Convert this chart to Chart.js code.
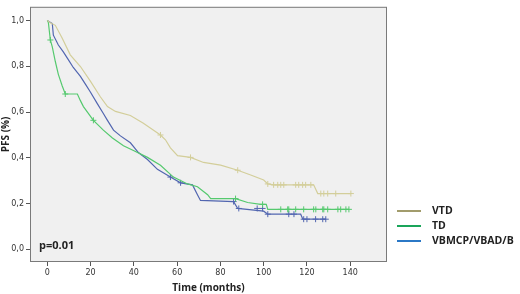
<!DOCTYPE html>
<html>
<head>
    <title>PFS Kaplan-Meier</title>
    <script src="https://cdn.jsdelivr.net/npm/chart.js"></script>
    <style>
        body { margin: 0; background: #fff; }
    </style>
</head>
<body>
    <canvas id="Chart" width="520" height="294"></canvas>
    <script>
        // curve points (months, survival)
        const vtdTime = [0, 1.4, 3.7, 6.9, 10.6, 15.3, 19.9, 24.5, 27.8, 31.5, 38.4, 44.4, 52.3, 54.6, 56.9, 60.2, 66.2, 72.2, 80.1, 88, 94, 100, 101.9, 104.6, 123.1, 125, 140.3];
        const vtdSurv = [1.0, 0.99, 0.979, 0.923, 0.85, 0.799, 0.735, 0.667, 0.624, 0.603, 0.585, 0.551, 0.5, 0.479, 0.444, 0.41, 0.402, 0.38, 0.368, 0.346, 0.325, 0.303, 0.286, 0.282, 0.282, 0.244, 0.244];
        const tdTime = [0, 0.5, 1.4, 2.3, 3.7, 5.1, 6.9, 8.3, 13.9, 15.3, 16.7, 21.3, 25.9, 30.1, 35.2, 39.8, 46.3, 52.3, 58.3, 64.8, 69.4, 74.1, 75.5, 87, 92.6, 98.6, 101.2, 101.9, 139.4];
        const tdSurv = [1.0, 0.991, 0.915, 0.885, 0.821, 0.765, 0.714, 0.679, 0.679, 0.65, 0.624, 0.564, 0.521, 0.487, 0.453, 0.432, 0.402, 0.368, 0.316, 0.286, 0.274, 0.239, 0.222, 0.222, 0.205, 0.197, 0.197, 0.175, 0.175];
        const vbTime = [0, 2.3, 2.8, 5.1, 7.4, 9.7, 12, 15.3, 17.6, 19.9, 23.1, 25.9, 27.8, 30.6, 33.8, 38.4, 42.1, 46.3, 50.9, 56.9, 61.6, 67.1, 69.4, 70.8, 86.1, 88, 100, 101.9, 117.1, 118.1, 128.7];
        const vbSurv = [1.0, 0.987, 0.936, 0.893, 0.863, 0.829, 0.795, 0.756, 0.722, 0.688, 0.637, 0.594, 0.564, 0.521, 0.496, 0.466, 0.423, 0.393, 0.35, 0.316, 0.291, 0.282, 0.239, 0.214, 0.209, 0.179, 0.167, 0.154, 0.154, 0.132, 0.132];

        // censored observations (months)
        const vtdCens = [52.3, 66.2, 88, 101.9, 104.6, 106.5, 107.9, 109.3, 114.8, 116.2, 118, 119.4, 121.8, 126.4, 127.8, 129.6, 133.3, 140.3];
        const tdCens = [1.4, 8.3, 21.3, 87, 99.5, 107.9, 111.1, 111.6, 114.8, 118.5, 123.1, 124.1, 127.3, 127.8, 129.6, 134.3, 135.6, 138, 139.4];
        const vbCens = [56.9, 61.6, 86.1, 88.5, 97, 99.5, 101.9, 111.6, 114, 118.5, 120, 124, 127.3, 128.7];

        const groups = ['VTD', 'TD', 'VBMCP/VBAD/B'];
        const xTicks = [0, 20, 40, 60, 80, 100, 120, 140];
        const yTicks = [0, 0.2, 0.4, 0.6, 0.8, 1.0];

        const lineColors = ['#d3ce9a', '#55c96e', '#5266b0'];
        const legendColors = ['#a29c6c', '#1aa55a', '#2b78c6'];

        function toPoints(times, surv) {
            return times.map((t, i) => ({ x: t, y: surv[i] }));
        }
        // level of the curve at time t (last point not after t)
        function survAt(times, surv, t) {
            let v = surv[0];
            for (let i = 0; i < times.length; i++) {
                if (times[i] <= t) v = surv[i];
            }
            return v;
        }
        function censPoints(cens, times, surv) {
            return cens.map(t => ({ x: t, y: survAt(times, surv, t) }));
        }

        const curves = [[vtdTime, vtdSurv, vtdCens], [tdTime, tdSurv, tdCens], [vbTime, vbSurv, vbCens]];
        const datasets = [];
        curves.forEach((c, i) => {
            datasets.push({
                type: 'line',
                label: groups[i],
                data: toPoints(c[0], c[1]),
                borderColor: lineColors[i],
                borderWidth: 1.2,
                pointRadius: 0,
                tension: 0,
                fill: false
            });
        });
        curves.forEach((c, i) => {
            datasets.push({
                type: 'scatter',
                label: groups[i] + ' censored',
                data: censPoints(c[2], c[0], c[1]),
                borderColor: lineColors[i],
                backgroundColor: lineColors[i],
                borderWidth: 1,
                pointStyle: 'cross',
                pointRadius: 3,
                showLine: false
            });
        });

        const plotFrame = {
            id: 'plotFrame',
            beforeDatasetsDraw(chart) {
                const { ctx, chartArea: a } = chart;
                ctx.save();
                ctx.fillStyle = '#f0f0f0';
                ctx.fillRect(a.left, a.top, a.right - a.left, a.bottom - a.top);
                ctx.restore();
            },
            afterDraw(chart) {
                const { ctx, chartArea: a } = chart;
                ctx.save();
                ctx.strokeStyle = '#7a7a7a';
                ctx.lineWidth = 1;
                ctx.strokeRect(a.left + 0.5, a.top + 0.5, a.right - a.left - 1, a.bottom - a.top - 1);
                ctx.fillStyle = '#222';
                ctx.font = 'bold 11px "Open Sans", sans-serif';
                ctx.textBaseline = 'middle';
                ctx.fillText('p=0.01', a.left + 9, a.bottom - 16);

                // legend, right of the plot near its bottom
                ctx.font = 'bold 10.5px "Open Sans", sans-serif';
                groups.forEach((g, i) => {
                    const y = a.bottom - 51 + i * 15;
                    ctx.fillStyle = legendColors[i];
                    ctx.fillRect(a.right + 10, y - 1, 24, 2);
                    ctx.fillStyle = '#222';
                    ctx.fillText(g, a.right + 45, y);
                });
                ctx.restore();
            }
        };

        var ctx = document.getElementById('Chart').getContext('2d');
        var chart = new Chart(ctx, {
            data: { datasets: datasets },
            plugins: [plotFrame],
            options: {
                responsive: false,
                animation: false,
                devicePixelRatio: 1,
                layout: { padding: { top: 1, right: 133, left: 0, bottom: 0 } },
                plugins: {
                    tooltip: { enabled: false },
                    legend: { display: false }
                },
                scales: {
                    x: {
                        type: 'linear',
                        min: -8,
                        max: 157,
                        afterFit: s => { s.height = 32; },
                        afterBuildTicks: s => { s.ticks = xTicks.map(v => ({ value: v })); },
                        grid: { display: true, drawOnChartArea: false, tickLength: 4, color: '#555' },
                        border: { display: false },
                        ticks: { color: '#333', padding: 2, font: { size: 8, family: '"DejaVu Sans", sans-serif' } },
                        title: {
                            display: true, text: 'Time (months)', color: '#222', padding: 0,
                            font: { size: 10, weight: 'bold', family: '"Open Sans", sans-serif' }
                        }
                    },
                    y: {
                        type: 'linear',
                        min: -0.055,
                        max: 1.06,
                        afterFit: s => { s.width = 30; },
                        afterBuildTicks: s => { s.ticks = yTicks.map(v => ({ value: v })); },
                        grid: { display: true, drawOnChartArea: false, tickLength: 4, color: '#555' },
                        border: { display: false },
                        ticks: {
                            color: '#333', padding: 2, font: { size: 8, family: '"DejaVu Sans", sans-serif' },
                            callback: v => v.toFixed(1).replace('.', ',')
                        },
                        title: {
                            display: true, text: 'PFS (%)', color: '#222', padding: 0,
                            font: { size: 10, weight: 'bold', family: '"Open Sans", sans-serif' }
                        }
                    }
                }
            }
        });
    </script>
</body>
</html>
